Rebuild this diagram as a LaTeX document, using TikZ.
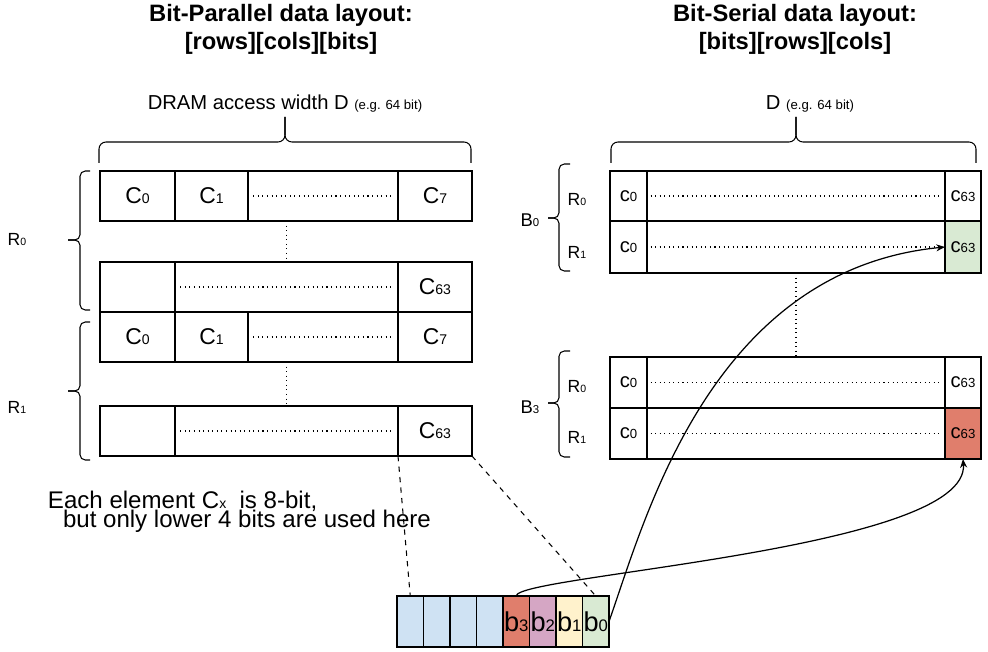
\documentclass[tikz,border=0pt]{standalone}
\usepackage{fontspec}
\setmainfont{Liberation Sans}
\usetikzlibrary{arrows.meta}
\definecolor{bitblue}{RGB}{207,226,243}
\definecolor{bitred}{RGB}{224,126,108}
\definecolor{bitpink}{RGB}{213,166,196}
\definecolor{bityellow}{RGB}{255,242,204}
\definecolor{bitgreen}{RGB}{217,234,211}
\newcommand{\idx}[2]{{\fontsize{#1}{#1}\selectfont #2}}

\begin{document}
\begin{tikzpicture}[x=0.02cm,y=-0.02cm,
  curly/.style={line width=0.6pt, rounded corners=#1}]
\tikzstyle{every node}+=[inner sep=0pt, outer sep=0pt]
\tikzstyle{cell}=[draw, line width=1.3pt, anchor=north west, font=\fontsize{13}{15}\selectfont]
\tikzstyle{cellr}=[cell, font=\fontsize{11.5}{13}\selectfont]
\tikzstyle{bytecell}=[draw, line width=0.7pt, anchor=north west, minimum width=0.53cm, minimum height=1.02cm, font=\fontsize{15.5}{17}\selectfont]
\tikzstyle{dots}=[dotted, line width=0.6pt]
\tikzstyle{title}=[align=center, font=\bfseries\fontsize{13.5}{15.9}\selectfont]
\tikzstyle{lab}=[font=\fontsize{10}{12}\selectfont]
\tikzstyle{note}=[anchor=base west, font=\fontsize{13.7}{15}\selectfont]
\tikzstyle{conn}=[-{Stealth[length=5pt,width=4pt]}, line width=0.7pt]
\useasboundingbox (0,0) rectangle (988,652);
% titles
\node[title] (tpar) at (281,29) {Bit-Parallel data layout:\\{[rows][cols][bits]}};
\node[title] (tser) at (795,29) {Bit-Serial data layout:\\{[bits][rows][cols]}};
% bit-parallel rows
\node[anchor=base, font=\fontsize{11.5}{13}\selectfont] (dpar) at (285,110) {DRAM access width D \idx{7.5}{(e.g. 64 bit)}};
\draw[curly=4pt] (99,163) |- (285,142) -- (285,117);
\draw[curly=4pt] (285,117) -- (285,142) -| (471,163);
\node[cell, minimum width=1.5cm, minimum height=1cm] (pa0) at (100,171) {C\idx{8}{0}};
\node[cell, minimum width=1.46cm, minimum height=1cm] (pa1) at (175,171) {C\idx{8}{1}};
\node[cell, minimum width=3cm, minimum height=1cm] (pad) at (248,171) {};
\node[cell, minimum width=1.48cm, minimum height=1cm] (pa7) at (398,171) {C\idx{8}{7}};
\node[cell, minimum width=1.5cm, minimum height=1cm] (pb0) at (100,262) {};
\node[cell, minimum width=4.46cm, minimum height=1cm] (pbd) at (175,262) {};
\node[cell, minimum width=1.48cm, minimum height=1cm] (pb63) at (398,262) {C\idx{8}{63}};
\node[cell, minimum width=1.5cm, minimum height=1cm] (pc0) at (100,312) {C\idx{8}{0}};
\node[cell, minimum width=1.46cm, minimum height=1cm] (pc1) at (175,312) {C\idx{8}{1}};
\node[cell, minimum width=3cm, minimum height=1cm] (pcd) at (248,312) {};
\node[cell, minimum width=1.48cm, minimum height=1cm] (pc7) at (398,312) {C\idx{8}{7}};
\node[cell, minimum width=1.5cm, minimum height=1cm] (pd0) at (100,406) {};
\node[cell, minimum width=4.46cm, minimum height=1cm] (pdd) at (175,406) {};
\node[cell, minimum width=1.48cm, minimum height=1cm] (pd63) at (398,406) {C\idx{8}{63}};
\draw[dots] ([xshift=3pt]pad.west) -- ([xshift=-3pt]pad.east);
\draw[dots] ([xshift=3pt]pbd.west) -- ([xshift=-3pt]pbd.east);
\draw[dots] ([xshift=3pt]pcd.west) -- ([xshift=-3pt]pcd.east);
\draw[dots] ([xshift=3pt]pdd.west) -- ([xshift=-3pt]pdd.east);
\draw[dots] (pbd.north |- pa0.south) -- (pbd.north);
\draw[dots] (pdd.north |- pc0.south) -- (pdd.north);
\draw[curly=3pt] (90,171) -| (80,240) -- (68,240);
\draw[curly=3pt] (68,240) -- (80,240) |- (90,310);
\draw[curly=3pt] (90,322) -| (80,391) -- (68,391);
\draw[curly=3pt] (68,391) -- (80,391) |- (90,460);
\node[lab] (r0p) at (17,240) {R\idx{6}{0}};
\node[lab] (r1p) at (17,407) {R\idx{6}{1}};
% bit-serial rows
\node[anchor=base, font=\fontsize{11.5}{13}\selectfont] (dser) at (810,110) {D \idx{7.5}{(e.g. 64 bit)}};
\draw[curly=4pt] (611,163) |- (796,142) -- (796,117);
\draw[curly=4pt] (796,117) -- (796,142) -| (976,163);
\node[cellr, minimum width=0.74cm, minimum height=1cm] (s0a0) at (610,171) {c\idx{7.5}{0}};
\node[cellr, minimum width=5.96cm, minimum height=1cm] (s0ad) at (647,171) {};
\node[cellr, minimum width=0.72cm, minimum height=1cm] (s0a63) at (945,171) {c\idx{7.5}{63}};
\node[cellr, minimum width=0.74cm, minimum height=1.04cm] (s0b0) at (610,221) {c\idx{7.5}{0}};
\node[cellr, minimum width=5.96cm, minimum height=1.04cm] (s0bd) at (647,221) {};
\node[cellr, minimum width=0.72cm, minimum height=1.04cm, fill=bitgreen] (s0b63) at (945,221) {c\idx{7.5}{63}};
\node[cellr, minimum width=0.74cm, minimum height=1.02cm] (s3a0) at (610,357) {c\idx{7.5}{0}};
\node[cellr, minimum width=5.96cm, minimum height=1.02cm] (s3ad) at (647,357) {};
\node[cellr, minimum width=0.72cm, minimum height=1.02cm] (s3a63) at (945,357) {c\idx{7.5}{63}};
\node[cellr, minimum width=0.74cm, minimum height=1.02cm] (s3b0) at (610,408) {c\idx{7.5}{0}};
\node[cellr, minimum width=5.96cm, minimum height=1.02cm] (s3bd) at (647,408) {};
\node[cellr, minimum width=0.72cm, minimum height=1.02cm, fill=bitred] (s3b63) at (945,408) {c\idx{7.5}{63}};
\draw[dots] ([xshift=2pt]s0ad.west) -- ([xshift=-2pt]s0ad.east);
\draw[dots] ([xshift=2pt]s0bd.west) -- ([xshift=-2pt]s0bd.east);
\draw[dots] ([xshift=2pt]s3ad.west) -- ([xshift=-2pt]s3ad.east);
\draw[dots] ([xshift=2pt]s3bd.west) -- ([xshift=-2pt]s3bd.east);
\draw[dots] (s0bd.south) -- (s3ad.north);
\draw[curly=3pt] (570,164) -| (559,218) -- (548,218);
\draw[curly=3pt] (548,218) -- (559,218) |- (570,271);
\draw[curly=3pt] (570,351) -| (559,403) -- (548,403);
\draw[curly=3pt] (548,403) -- (559,403) |- (570,457);
\node[lab, font=\fontsize{10.5}{12}\selectfont] (b0s) at (530,220) {B\idx{6.5}{0}};
\node[lab, font=\fontsize{10.5}{12}\selectfont] (b3s) at (530,407) {B\idx{6.5}{3}};
\node[lab] (r0a) at (577,200) {R\idx{6}{0}};
\node[lab] (r1a) at (577,252) {R\idx{6}{1}};
\node[lab] (r0b) at (577,387) {R\idx{6}{0}};
\node[lab] (r1b) at (577,437) {R\idx{6}{1}};
% one element, 8 bits
\node[note] (note1) at (48,508) {Each element C\idx{8}{x}\ \ is 8-bit,};
\node[note] (note2) at (63,527) {but only lower 4 bits are used here};
\node[bytecell, fill=bitblue] (bb7) at (397,596) {};
\node[bytecell, fill=bitblue] (bb6) at (423.5,596) {};
\node[bytecell, fill=bitblue] (bb5) at (450,596) {};
\node[bytecell, fill=bitblue] (bb4) at (476.5,596) {};
\node[bytecell, fill=bitred] (bb3) at (503,596) {b\idx{9.5}{3}};
\node[bytecell, fill=bitpink] (bb2) at (529.5,596) {b\idx{9.5}{2}};
\node[bytecell, fill=bityellow] (bb1) at (556,596) {b\idx{9.5}{1}};
\node[bytecell, fill=bitgreen] (bb0) at (582.5,596) {b\idx{9.5}{0}};
\draw[dashed, line width=0.6pt] (pd63.south west) -- (bb7.north);
\draw[dashed, line width=0.6pt] (pd63.south east) -- (bb0.north);
\draw[conn] (bb0.east) .. controls (645,520) and (710,270) .. (s0b63.west);
\draw[conn] (bb3.north) .. controls (516,575) and (970,550) .. (s3b63.south);
\end{tikzpicture}
\end{document}
